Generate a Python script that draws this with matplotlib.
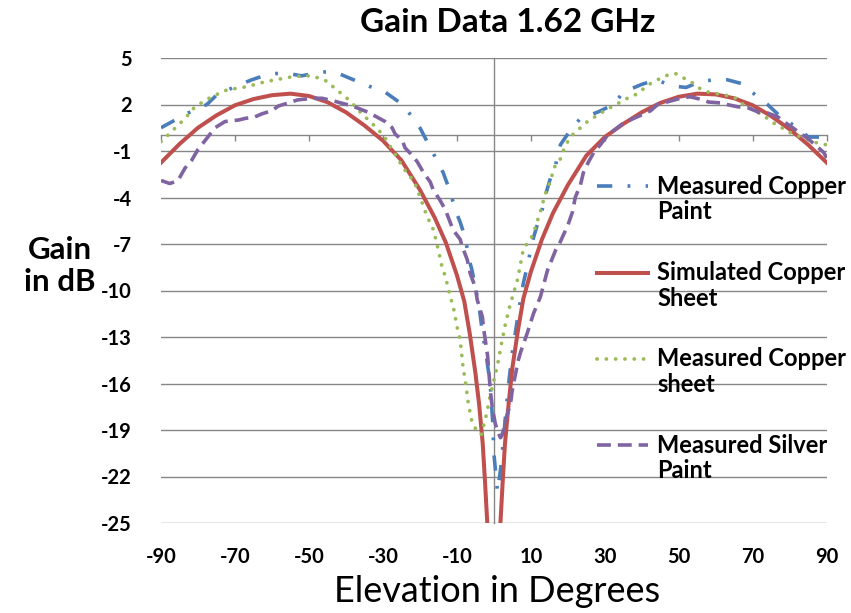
import numpy as np
import matplotlib
matplotlib.use("Agg")
import matplotlib.pyplot as plt
from matplotlib.legend_handler import HandlerLine2D

# ---------------- data ----------------
title = "Gain Data 1.62 GHz"
x_label = "Elevation in Degrees"
y_label = "Gain\nin dB"
x_ticks = [-90, -70, -50, -30, -10, 10, 30, 50, 70, 90]
y_ticks = [-25, -22, -19, -16, -13, -10, -7, -4, -1, 2, 5]

labels = ["Measured Copper\nPaint", "Simulated Copper\nSheet",
          "Measured Copper\nsheet", "Measured Silver\nPaint"]

x_cu_paint = [-90, -85.4, -82.7, -77.6, -75, -70, -65.4, -60.4, -55.6, -52, -46.5, -43,
              -38, -33.4, -29.4, -25.3, -22, -19.9, -17.7, -15.4, -13.7, -12, -10.4,
              -9.1, -7.7, -6.9, -5.9, -5, -4, -3.2, -2, -1, -0.3, 0, 1, 2, 3, 4, 5, 6.6,
              8, 9, 10.4, 11.7, 13, 13.4, 15.3, 16.7, 18, 20.7, 23.4, 28, 32.4, 35, 40,
              44, 48, 52, 56, 60, 63, 67, 70.8, 74, 77.6, 83, 85, 90]
y_cu_paint = [0.5, 1.1, 1.45, 2.0, 2.6, 3.15, 3.6, 4.0, 4.0, 3.85, 4.1, 4.1,
              3.6, 3.15, 2.8, 2.1, 1.2, 0.46, -0.55, -1.6, -2.4, -3.5, -4.8,
              -5.6, -6.6, -7.8, -8.7, -9.8, -11.0, -12.5, -14.3, -16.0, -18.5, -20.5, -23.0, -21.2, -18.5, -16.0, -14.0, -11.5,
              -9.5, -8.5, -6.85, -5.8, -4.9, -4.3, -2.75, -1.9, -0.6, 0.35, 1.1, 1.5, 2.0, 2.8, 3.3,
              3.6, 3.2, 3.1, 3.5, 3.6, 3.6, 3.35, 2.6, 2.0, 1.2, 0.35, -0.1, -0.1]

x_sim = [-90, -85, -80, -75, -70, -65, -60, -55, -50, -45, -40, -35, -30, -25, -20,
         -16, -13, -10, -8, -6.5, -5, -4, -3, -2.4, -1.8, -1, 0, 1, 1.8, 2.4, 3, 4, 5,
         6.5, 8, 10, 13, 16, 20, 25, 30, 35, 40, 45, 50, 55, 60, 65, 70, 75, 80, 85, 90]
y_sim = [-1.75, -0.55, 0.5, 1.3, 1.95, 2.35, 2.6, 2.7, 2.55, 2.15, 1.5, 0.65, -0.33, -1.6, -3.5,
         -5.3, -6.9, -9.0, -10.7, -12.8, -15.3, -17.3, -19.9, -22.3, -24.9, -29.0, -40.0, -29.0, -24.9,
         -22.3, -19.9, -17.3, -15.0, -12.6, -10.5, -8.8, -6.7, -5.0, -3.2, -1.3, -0.1, 0.75, 1.5,
         2.1, 2.5, 2.7, 2.65, 2.4, 1.95, 1.25, 0.4, -0.6, -1.75]

x_cu_sheet = [-90, -87.6, -85.8, -83.5, -80.8, -76.3, -72.2, -66.8, -61.8, -54.3, -49.2,
              -44.8, -42.9, -40.6, -38.8, -35.3, -33.4, -29.9, -27.1, -24.5, -21.5, -19.9,
              -18.1, -16.3, -15, -14, -13.1, -11.8, -11, -10, -9.1, -8.4, -7.5, -6.9, -5.9,
              -4.5, -3.4, -2, -1, 0, 1, 2, 3, 4.3, 5.3, 6.4, 7.2, 8, 9.9, 10.7, 12.6,
              13.4, 14.4, 15.3, 16.2, 18, 19.4, 21.2, 25.3, 28.8, 31.5, 36.1, 38.9, 41.6,
              44.3, 47, 49.1, 51.4, 53.7, 55.9, 58, 64.8, 67.6, 71.3, 74, 75.7, 80.4, 84,
              87.6, 90]
y_cu_sheet = [-0.4, 0.14, 0.57, 1.1, 1.86, 2.5, 2.94, 3.15, 3.47, 3.8, 3.86,
              3.47, 3.0, 2.6, 2.2, 1.3, 0.9, 0.03, -1.05, -2.1, -3.0, -4.0,
              -5.2, -6.1, -7.4, -8.5, -9.1, -10.4, -11.0, -12.3, -13.2, -14.8, -16.2, -17.3, -18.5,
              -19.1, -19.3, -18.0, -16.8, -15.8, -14.8, -13.5, -12.3, -11.0, -10.2, -9.3, -8.3, -7.3, -6.7, -6.3, -4.9,
              -4.2, -3.4, -3.0, -2.1, -1.5, -0.6, 0.03, 0.9, 1.43, 1.8, 2.4, 2.7, 3.25,
              3.6, 3.9, 4.0, 3.7, 3.4, 3.0, 2.8, 2.5, 1.97, 1.5, 1.1, 0.8, 0.15, -0.2,
              -0.5, -0.6]

x_ag_paint = [-90, -87.6, -85.4, -83.5, -81.7, -80, -78, -75.4, -72.7, -69, -67.3, -64.6,
              -62.7, -60, -58.3, -55.6, -53, -49, -46.4, -42.9, -40.6, -38.8, -36.1, -34,
              -31.3, -29.4, -27.5, -26.7, -24.8, -24, -22, -20.7, -19, -17.2, -16.4, -14.5,
              -13.1, -11, -9.1, -8.5, -7.2, -6.4, -5, -4.5, -3.1, -2.8, -1.7, -0.9, -0.4,
              0.4, 1.2, 1.8, 2.3, 3, 4.5, 5, 6.6, 7.2, 9.1, 10.7, 12.6, 14.5, 16.7, 17.5,
              20, 21.3, 22, 23.4, 24.2, 25.6, 27, 28.8, 30.7, 33.4, 35, 37.8, 39.7, 42.4,
              44.3, 50.5, 53, 56.6, 58, 61.3, 63, 66, 68.6, 71.6, 74, 76.8, 78.4, 80.8,
              84.9, 87.6, 89.2, 90]
y_ag_paint = [-2.9, -3.1, -2.9, -2.1, -1.6, -0.9, -0.3, 0.5, 0.9, 1.0, 1.1, 1.2,
              1.4, 1.6, 1.9, 2.1, 2.3, 2.4, 2.4, 2.2, 2.05, 1.95, 1.7, 1.5,
              1.15, 0.9, 0.5, 0.1, -0.3, -0.8, -1.3, -1.7, -2.4, -3.0, -3.5, -4.2,
              -4.8, -6.1, -6.7, -7.2, -8.0, -8.9, -9.8, -10.6, -11.7, -12.4, -14.2, -16.6, -17.6,
              -18.6, -19.2, -19.5, -19.3, -18.5, -17.3, -16.4, -14.5, -14.0, -12.7, -11.5, -10.4, -8.7, -7.4, -7.1,
              -5.8, -4.9, -4.0, -3.2, -2.4, -1.7, -1.1, -0.6, 0.0, 0.5, 0.8, 1.1, 1.3, 1.6,
              2.0, 2.4, 2.5, 2.3, 2.16, 2.1, 2.0, 1.85, 1.8, 1.5, 1.45, 1.2, 0.9, 0.5,
              -0.2, -0.75, -1.1, -1.45]

# ---------------- style ----------------
plt.rcParams['font.family'] = ['Lato', 'DejaVu Sans']
plt.rcParams['lines.scale_dashes'] = False
plt.rcParams['axes.unicode_minus'] = False

C_BLUE = '#4A7EBB'
C_RED = '#C0504D'
C_GREEN = '#9BBB59'
C_PURPLE = '#8064A2'
C_GRID = '#868686'

W, H = 851, 613
fig = plt.figure(figsize=(W / 100, H / 100), dpi=100)
L, R, T, B = 161, 826.7, 58, 523
ax = fig.add_axes([L / W, 1 - B / H, (R - L) / W, (B - T) / H])
ax.set_xlim(-90, 90)
ax.set_ylim(-25, 5)

ax.plot(x_cu_paint, y_cu_paint, color=C_BLUE, lw=2.6, dashes=(11, 11, 2, 11),
        label=labels[0], zorder=3)
ax.plot(x_sim, y_sim, color=C_RED, lw=2.9, label=labels[1], zorder=3,
        solid_joinstyle='round')
ax.plot(x_cu_sheet, y_cu_sheet, color=C_GREEN, lw=2.7, dashes=(0.1, 6.6),
        dash_capstyle='round', label=labels[2], zorder=3)
ax.plot(x_ag_paint, y_ag_paint, color=C_PURPLE, lw=2.6, dashes=(10, 5),
        label=labels[3], zorder=3)

# horizontal gridlines
ax.set_yticks(y_ticks)
ax.yaxis.grid(True, color=C_GRID, lw=1.0)
ax.set_xticks(x_ticks)
for s in ax.spines.values():
    s.set_visible(False)
ax.tick_params(axis='both', length=0, labelsize=14.5)
ax.tick_params(axis='y', pad=21)
ax.tick_params(axis='x', pad=17)
for lab in ax.get_xticklabels() + ax.get_yticklabels():
    lab.set_fontweight('bold')

# x axis line crossing at y = 0 with tick marks
sx = ax.secondary_xaxis(25 / 30)
sx.set_alignment('bottom')
sx.set_xticks(x_ticks)
sx.tick_params(direction='out', length=4, width=1.0, color=C_GRID,
               labelbottom=False, labeltop=False)
sx.spines['bottom'].set_color(C_GRID)
sx.spines['bottom'].set_linewidth(1.0)
sx.set_zorder(1)

# y axis line crossing at x = 0
sy = ax.secondary_yaxis(0.5)
sy.set_alignment('left')
sy.set_yticks([])
sy.spines['left'].set_color(C_GRID)
sy.spines['left'].set_linewidth(1.0)
sy.set_zorder(1)


class FirstLineHandler(HandlerLine2D):
    def create_artists(self, legend, orig_handle, xdescent, ydescent, width,
                       height, fontsize, trans):
        arts = super().create_artists(legend, orig_handle, xdescent, ydescent,
                                      width, height, fontsize, trans)
        for a in arts:
            a.set_ydata(np.asarray(a.get_ydata(), dtype=float) + 0.6 * fontsize)
        return arts


leg = ax.legend(loc='upper left', bbox_to_anchor=((597 - L) / (R - L), 1 - (175 - T) / (B - T)),
                frameon=False, borderpad=0, borderaxespad=0, handlelength=2.15,
                handletextpad=0.4, labelspacing=1.6,
                prop={'weight': 'bold', 'size': 17},
                handler_map={matplotlib.lines.Line2D: FirstLineHandler()})
for t in leg.get_texts():
    t.set_linespacing(1.13)

fig.text(508 / W, 1 - 22 / H, title, ha='center', va='center', fontsize=24,
         fontweight='bold')
fig.text(60 / W, 1 - 266 / H, y_label, ha='center', va='center', fontsize=22.5,
         fontweight='bold', multialignment='center', linespacing=1.17)
fig.text(497 / W, 1 - 592 / H, x_label, ha='center', va='center', fontsize=26)

fig.savefig('out.png', dpi=100)
